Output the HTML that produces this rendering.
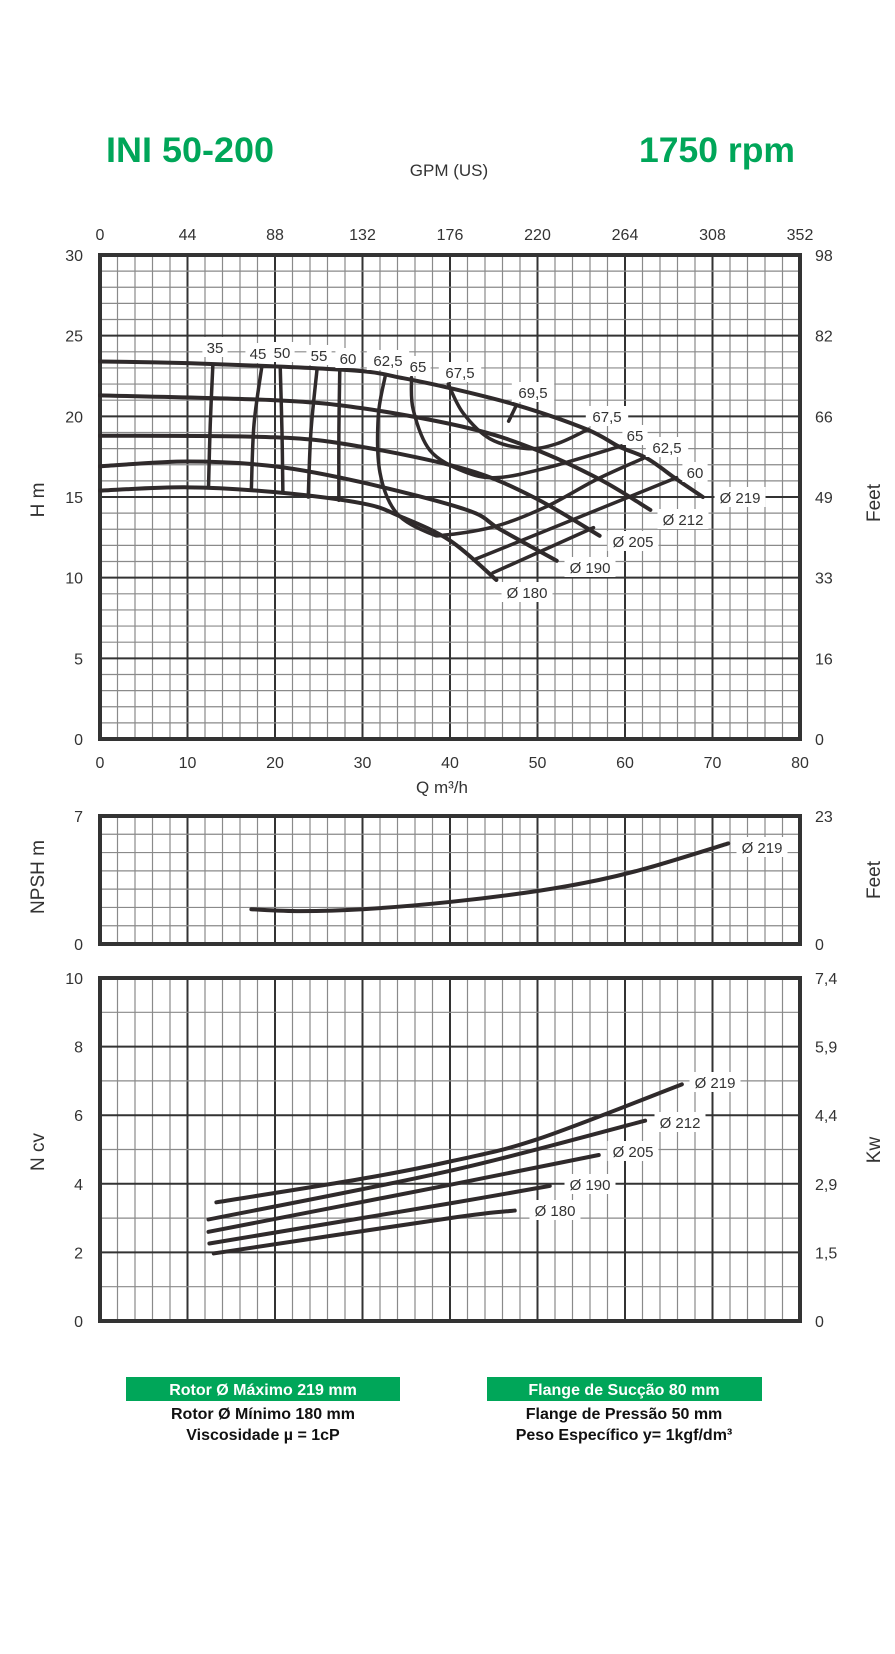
<!DOCTYPE html>
<html><head><meta charset="utf-8"><style>
html,body{margin:0;padding:0;background:#fff;}
svg{display:block;font-family:"Liberation Sans",Arial,sans-serif;}
</style></head><body>
<svg id="chart" width="895" height="1654" viewBox="0 0 895 1654" xmlns="http://www.w3.org/2000/svg">
<text x="106" y="162" font-size="35" font-weight="bold" fill="#00a659" textLength="168" lengthAdjust="spacingAndGlyphs">INI 50-200</text>
<text x="639" y="162" font-size="35" font-weight="bold" fill="#00a659" textLength="156" lengthAdjust="spacingAndGlyphs">1750 rpm</text>
<text x="449" y="176" font-size="17" fill="#333" text-anchor="middle">GPM (US)</text>
<g id="main"></g>
<g id="npsh"></g>
<g id="power"></g>
<g font-weight="bold" font-size="16" text-anchor="middle">
<rect x="126" y="1377" width="274" height="24" fill="#00a659"/>
<text x="263" y="1395" fill="#fff">Rotor Ø Máximo 219 mm</text>
<text x="263" y="1419" fill="#111">Rotor Ø Mínimo 180 mm</text>
<text x="263" y="1440" fill="#111">Viscosidade µ = 1cP</text>
<rect x="487" y="1377" width="275" height="24" fill="#00a659"/>
<text x="624" y="1395" fill="#fff">Flange de Sucção 80 mm</text>
<text x="624" y="1419" fill="#111">Flange de Pressão 50 mm</text>
<text x="624" y="1440" fill="#111">Peso Específico y= 1kgf/dm³</text>
</g>
</svg>
<script>
// ---- data ----
const xTicks = [0,10,20,30,40,50,60,70,80];
const gpmTicks = ['0','44','88','132','176','220','264','308','352'];
const headTicks = [0,5,10,15,20,25,30];
const feetTicks = ['0','16','33','49','66','82','98'];
const npshTicksL = ['0','7'];
const npshTicksR = ['0','23'];
const powerTicks = [0,2,4,6,8,10];
const kwTicks = ['0','1,5','2,9','4,4','5,9','7,4'];

const diamNames = ['Ø 219','Ø 212','Ø 205','Ø 190','Ø 180'];
const headQ219 = [0,10,20,30,34.3,39.6,47.6,55.6,59.4,62.5,65.9,68.9];
const headH219 = [23.4,23.3,23.1,22.8,22.4,21.8,20.7,19.2,18.1,17.4,16.1,15.0];
const headQ212 = [0,20,30,41.9,49.5,57.1,62.9];
const headH212 = [21.3,21.0,20.5,19.3,18.0,16.1,14.2];
const headQ205 = [0,20,30,41.9,49.5,57.1];
const headH205 = [18.8,18.7,18.1,16.7,15.0,12.6];
const headQ190 = [0,10,20,30,41.9,45.7,52.2];
const headH190 = [16.9,17.2,16.9,15.9,14.2,13.0,11.05];
const headQ180 = [0,10,20,30,34.3,40.0,45.3];
const headH180 = [15.4,15.6,15.3,14.6,13.8,12.3,9.86];

const effQ35 = [12.9,12.6,12.4]; const effH35 = [23.2,19.5,15.6];
const effQ45 = [18.5,17.6,17.3]; const effH45 = [23.1,19.5,15.5];
const effQ50 = [20.6,20.8,20.9]; const effH50 = [23.0,19.0,15.3];
const effQ55 = [24.8,24.1,23.8]; const effH55 = [22.9,19.0,15.0];
const effQ60a = [27.4,27.3,27.3]; const effH60a = [22.8,19.0,14.8];
const effQ625 = [32.6,31.8,32.0,33.9,37.7,39.6,45.3,51.0,56.8,62.1];
const effH625 = [22.5,20.0,16.5,14.0,12.75,12.65,13.2,14.4,16.1,17.4];
const effQ65 = [35.6,35.8,37.7,41.5,45.3,51.0,59.8];
const effH65 = [22.4,20.4,17.9,16.6,16.2,16.8,18.2];
const effQ675 = [39.8,41.5,44.6,48.8,52.2,55.8];
const effH675 = [22.0,20.2,18.6,18.0,18.3,19.2];
const effQ695 = [46.7,47.6]; const effH695 = [19.7,20.7];
const effQ60b = [42.7,65.9]; const effH60b = [11.1,16.2];
const effQ575 = [44.9,56.4]; const effH575 = [10.3,13.1];

const effLabels = ['35','45','50','55','60','62,5','65','67,5','69,5','67,5','65','62,5','60'];

const npshQ = [17.3,22.9,30,40,50,57,62.9,71.8];
const npshV = [1.9,1.8,1.9,2.3,2.9,3.5,4.2,5.5];

const powQ219 = [13.3,30,40,50,66.5]; const powP219 = [3.46,4.15,4.65,5.3,6.9];
const powQ212 = [12.4,40,62.3]; const powP212 = [2.96,4.38,5.84];
const powQ205 = [12.4,40,57]; const powP205 = [2.6,3.97,4.84];
const powQ190 = [12.5,40,51.4]; const powP190 = [2.26,3.43,3.94];
const powQ180 = [13,40,47.4]; const powP180 = [1.97,3.0,3.22];

// ---- helpers ----
const NS='http://www.w3.org/2000/svg';
const X0=100, X1=800;
const xs = q => X0 + (X1-X0)*q/80;
const yMain = h => 739 - (739-255)*h/30;
const yNpsh = n => 944 - (944-816)*n/7;
const yPow = p => 1321 - (1321-978)*p/10;
function mk(tag, parent, attrs){const e=document.createElementNS(NS,tag);for(const k in attrs)e.setAttribute(k,attrs[k]);parent.appendChild(e);return e;}
function smooth(pts){
  if(pts.length<3) return 'M'+pts.map(p=>p.join(',')).join('L');
  let d='M'+pts[0][0]+','+pts[0][1];
  for(let i=0;i<pts.length-1;i++){
    const p0=pts[i-1]||pts[i],p1=pts[i],p2=pts[i+1],p3=pts[i+2]||p2;
    const c1=[p1[0]+(p2[0]-p0[0])/6,p1[1]+(p2[1]-p0[1])/6];
    const c2=[p2[0]-(p3[0]-p1[0])/6,p2[1]-(p3[1]-p1[1])/6];
    d+='C'+c1+' '+c2+' '+p2;
  }
  return d;
}
function grid(g, top, bot, yStepCount, majorEvery){
  for(let q=0;q<=80;q+=2){
    const x=xs(q); const major=q%10===0;
    const l=mk('line',g,{x1:x,x2:x,y1:top,y2:bot,stroke:major?'#333':'#8a8a8a','stroke-width':major?2:1.2});
    
    
  }
  for(let i=0;i<=yStepCount;i++){
    const y=top+(bot-top)*i/yStepCount; const major=majorEvery&&i%majorEvery===0;
    const l=mk('line',g,{x1:X0,x2:X1,y1:y,y2:y,stroke:major?'#333':'#8a8a8a','stroke-width':major?2:1.2});
    
    
  }
  const r=mk('rect',g,{x:X0,y:top,width:X1-X0,height:bot-top,fill:'none',stroke:'#333','stroke-width':4});
  
  
}
function txt(g,x,y,s,attrs,name){
  const t=mk('text',g,Object.assign({x:x,y:y,'font-size':16,fill:'#333'},attrs||{}));
  t.textContent=s;
  
  
  return t;
}
function curve(g,Q,V,yf,name,w){
  const p=mk('path',g,{d:smooth(Q.map((q,i)=>[xs(q),yf(V[i])])),fill:'none',stroke:'#2f2a2b','stroke-width':w||4,'stroke-linecap':'round'});
  
  
}
function label(g,x,y,s,name){
  const w=s.length*8.6+8;
  const r=mk('rect',g,{x:x-w/2,y:y-11,width:w,height:20,fill:'#fff'});
  
  
  txt(g,x,y+5,s,{'text-anchor':'middle','font-size':15},name);
}

// ---- main head chart ----
const gm=document.getElementById('main');
grid(gm,255,739,30,5);
xTicks.forEach((q,i)=>{
  txt(gm,xs(q),768,String(q),{'text-anchor':'middle'},'x-tick-label');
  txt(gm,xs(q),240,gpmTicks[i],{'text-anchor':'middle'},'gpm-tick-label');
});
headTicks.forEach((h,i)=>{
  txt(gm,83,yMain(h)+6,String(h),{'text-anchor':'end'},'head-tick-label');
  txt(gm,815,yMain(h)+6,feetTicks[i],{},'feet-tick-label');
});
txt(gm,442,793,'Q m³/h',{'text-anchor':'middle','font-size':17},'x-axis-title');
txt(gm,0,0,'H m',{'text-anchor':'middle','font-size':19,transform:'translate(44,500) rotate(-90)'},'head-axis-title');
txt(gm,0,0,'Feet',{'text-anchor':'middle','font-size':19,transform:'translate(880,503) rotate(-90)'},'feet-axis-title');
curve(gm,headQ219,headH219,yMain,'head-curve-219');
curve(gm,headQ212,headH212,yMain,'head-curve-212');
curve(gm,headQ205,headH205,yMain,'head-curve-205');
curve(gm,headQ190,headH190,yMain,'head-curve-190');
curve(gm,headQ180,headH180,yMain,'head-curve-180');
[[effQ35,effH35],[effQ45,effH45],[effQ50,effH50],[effQ55,effH55],[effQ60a,effH60a],[effQ625,effH625],[effQ65,effH65],[effQ675,effH675],[effQ695,effH695],[effQ60b,effH60b],[effQ575,effH575]].forEach(a=>curve(gm,a[0],a[1],yMain,'efficiency-curve',3.5));
const effPos=[[215,348],[258,354],[282,353],[319,356],[348,359],[388,361],[418,367],[460,373],[533,393],[607,417],[635,436],[667,448],[695,473]];
effLabels.forEach((s,i)=>label(gm,effPos[i][0],effPos[i][1],s,'efficiency-label'));
const diamPos=[[740,498],[683,520],[633,542],[590,568],[527,593]];
diamNames.forEach((s,i)=>label(gm,diamPos[i][0],diamPos[i][1],s,'diameter-label'));

// ---- NPSH ----
const gn=document.getElementById('npsh');
grid(gn,816,944,7,0);
txt(gn,83,822,npshTicksL[1],{'text-anchor':'end'},'npsh-tick-label');
txt(gn,83,950,npshTicksL[0],{'text-anchor':'end'},'npsh-tick-label');
txt(gn,815,822,npshTicksR[1],{},'npsh-feet-tick-label');
txt(gn,815,950,npshTicksR[0],{},'npsh-feet-tick-label');
txt(gn,0,0,'NPSH m',{'text-anchor':'middle','font-size':19,transform:'translate(44,877) rotate(-90)'},'npsh-axis-title');
txt(gn,0,0,'Feet',{'text-anchor':'middle','font-size':19,transform:'translate(880,880) rotate(-90)'},'npsh-feet-axis-title');
curve(gn,npshQ,npshV,yNpsh,'npsh-curve-219');
label(gn,762,848,'Ø 219','npsh-label');

// ---- Power ----
const gp=document.getElementById('power');
grid(gp,978,1321,10,2);
powerTicks.forEach((p,i)=>{
  txt(gp,83,yPow(p)+6,String(p),{'text-anchor':'end'},'power-tick-label');
  txt(gp,815,yPow(p)+6,kwTicks[i],{},'kw-tick-label');
});
txt(gp,0,0,'N cv',{'text-anchor':'middle','font-size':19,transform:'translate(44,1152) rotate(-90)'},'power-axis-title');
txt(gp,0,0,'Kw',{'text-anchor':'middle','font-size':19,transform:'translate(880,1150) rotate(-90)'},'kw-axis-title');
curve(gp,powQ219,powP219,yPow,'power-curve-219');
curve(gp,powQ212,powP212,yPow,'power-curve-212');
curve(gp,powQ205,powP205,yPow,'power-curve-205');
curve(gp,powQ190,powP190,yPow,'power-curve-190');
curve(gp,powQ180,powP180,yPow,'power-curve-180');
const powPos=[[715,1083],[680,1123],[633,1152],[590,1185],[555,1211]];
diamNames.forEach((s,i)=>label(gp,powPos[i][0],powPos[i][1],s,'power-diameter-label'));
</script>
</body></html>
